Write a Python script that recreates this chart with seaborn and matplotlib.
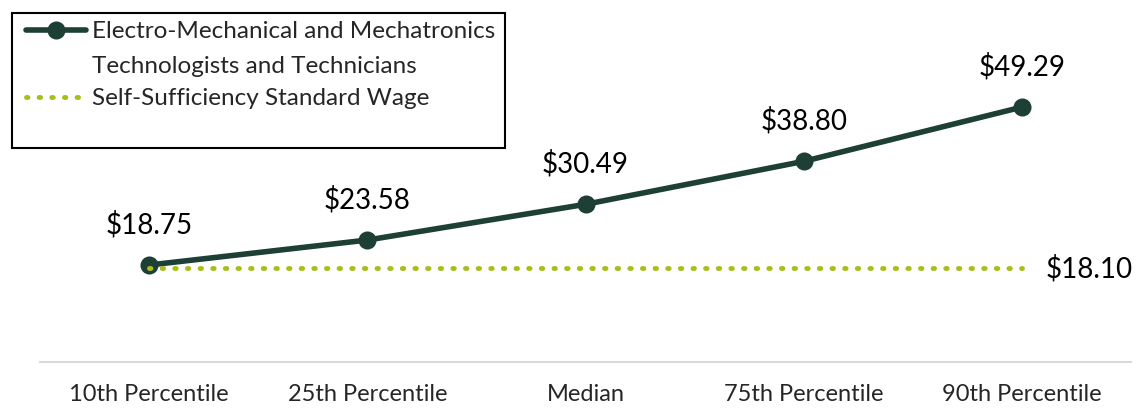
import numpy as np
import pandas as pd
import seaborn as sns
import matplotlib.pyplot as plt
from matplotlib.patches import Rectangle
from matplotlib.legend_handler import HandlerLine2D

# --- dati ---
categories = ['10th Percentile', '25th Percentile', 'Median', '75th Percentile', '90th Percentile']
wages = [18.75, 23.58, 30.49, 38.80, 49.29]
self_sufficiency = [18.10] * 5
occupation = 'Electro-Mechanical and Mechatronics\nTechnologists and Technicians'
standard_label = 'Self-Sufficiency Standard Wage'

dark_green = '#1D3F36'
lime = '#A9BD1B'

df = pd.DataFrame({'category': categories, 'wage': wages, 'standard': self_sufficiency})

sns.set_style('white')
plt.rcParams['font.family'] = ['Lato', 'DejaVu Sans']


# handle allineato alla prima riga del testo (come in Excel)
class TopLineHandler(HandlerLine2D):
    def __init__(self, shift=0, **kw):
        super().__init__(**kw)
        self.shift = shift

    def create_artists(self, *args, **kw):
        artists = super().create_artists(*args, **kw)
        for a in artists:
            a.set_ydata(np.asarray(a.get_ydata()) + self.shift)
        return artists


fig = plt.figure(figsize=(11.38, 4.08), dpi=100)
ax = fig.add_axes([40 / 1138, (408 - 362) / 408, (1131 - 40) / 1138, 362 / 408])

sns.lineplot(data=df, x='category', y='wage', ax=ax, color=dark_green, linewidth=4,
             marker='o', markersize=13, markeredgewidth=0, label=occupation, sort=False)
sns.lineplot(data=df, x='category', y='standard', ax=ax, color=lime, linewidth=3.5,
             linestyle=(0, (0.3, 2.3)), dash_capstyle='round', label=standard_label, sort=False)

# etichette dei valori
for i, v in enumerate(wages):
    ax.annotate(f'${v:.2f}', (i, v), xytext=(0, 19), textcoords='offset points',
                ha='center', va='bottom', fontsize=20, color='black')
ax.annotate(f'${self_sufficiency[-1]:.2f}', (len(categories) - 1, self_sufficiency[-1]),
            xytext=(17, 0), textcoords='offset points', ha='left', va='center',
            fontsize=20, color='black')

ax.set_xlim(-0.5, len(categories) - 0.5)
ax.set_ylim(0, 70)
ax.set_xlabel('')
ax.set_ylabel('')
ax.set_yticks([])
ax.tick_params(axis='x', labelsize=17, length=0, pad=16)
for s in ['top', 'right', 'left']:
    ax.spines[s].set_visible(False)
ax.spines['bottom'].set_color('#D9D9D9')
ax.spines['bottom'].set_linewidth(1.5)

handles, labels = ax.get_legend_handles_labels()
leg = ax.legend(handles, labels, loc='upper left', bbox_to_anchor=(26 / 1138, 1 - 21 / 408),
                bbox_transform=fig.transFigure, frameon=False, fontsize=17.5,
                handlelength=2.45, handletextpad=0.25, labelspacing=0.45,
                borderpad=0, borderaxespad=0,
                handler_map={handles[0]: TopLineHandler(shift=14)})
leg.get_texts()[0].set_linespacing(1.85)
fig.add_artist(Rectangle((12 / 1138, 1 - 148 / 408), (505 - 12) / 1138, (148 - 13) / 408,
                         transform=fig.transFigure, fill=False, edgecolor='black', linewidth=1.5))

plt.savefig('out.png', dpi=100)
